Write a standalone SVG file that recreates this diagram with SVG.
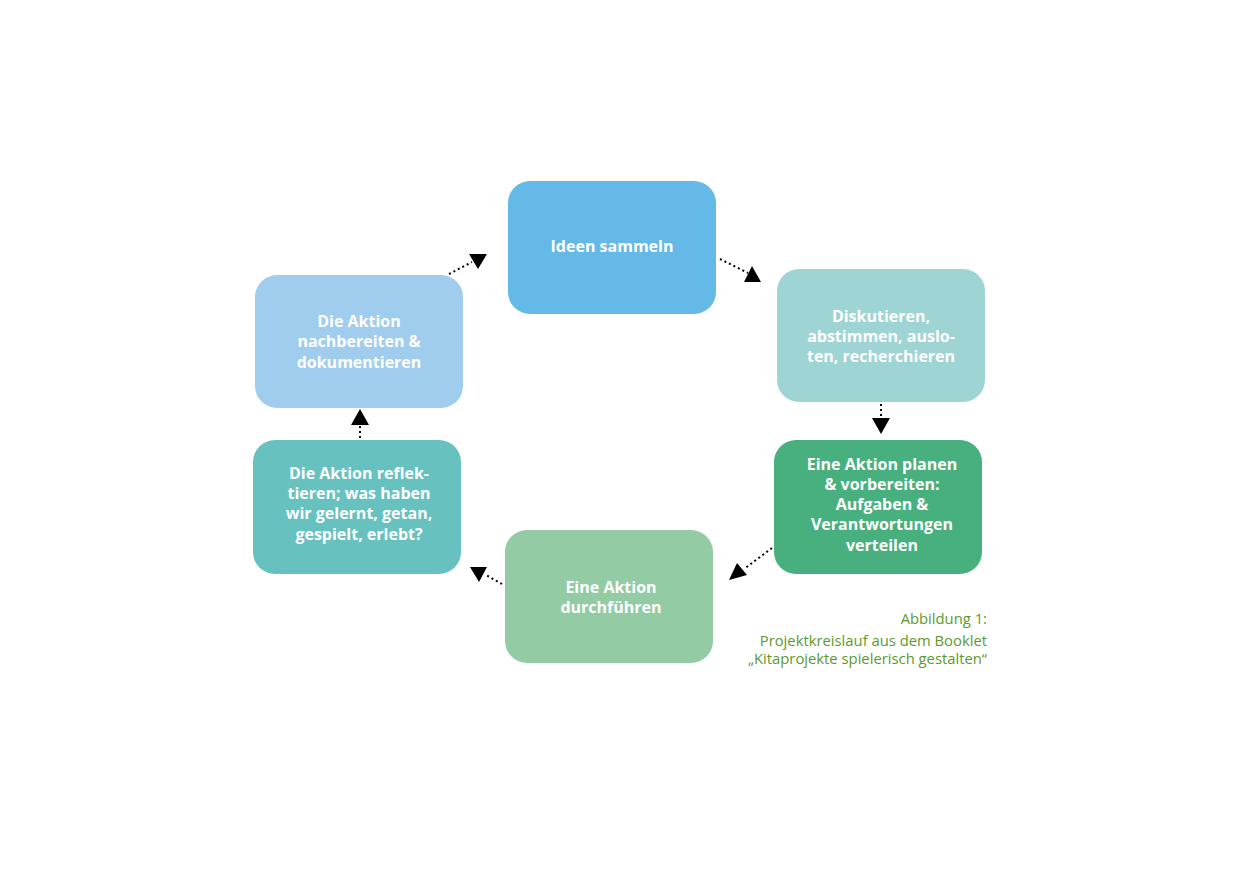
<svg xmlns="http://www.w3.org/2000/svg" width="1240" height="874" viewBox="0 0 1240 874">
<style>
.t{font-family:"Open Sans","Liberation Sans",sans-serif;font-weight:bold;font-size:16px;fill:#fff;text-anchor:middle}
.c{font-family:"Open Sans","Liberation Sans",sans-serif;font-size:14.8px;fill:#5b9a2c;text-anchor:end}
.d{stroke:#000;stroke-width:2;stroke-dasharray:2 3;fill:none}
</style>
<rect width="1240" height="874" fill="#fff"/>
<g id="n1"><rect x="508" y="181" width="208" height="133" rx="22" fill="#64b9e6"/><text class="t" x="612" y="252">Ideen sammeln</text></g>
<g id="n2"><rect x="777" y="269" width="208" height="133" rx="22" fill="#9fd4d4"/><text class="t" x="881" y="322">Diskutieren,</text><text class="t" x="881" y="342">abstimmen, auslo-</text><text class="t" x="881" y="362">ten, recherchieren</text></g>
<g id="n3"><rect x="774" y="440" width="208" height="134" rx="22" fill="#48b07e"/><text class="t" x="882" y="470">Eine Aktion planen</text><text class="t" x="882" y="490">&amp; vorbereiten:</text><text class="t" x="882" y="510">Aufgaben &amp;</text><text class="t" x="882" y="530">Verantwortungen</text><text class="t" x="882" y="551">verteilen</text></g>
<g id="n4"><rect x="505" y="530" width="208" height="133" rx="22" fill="#93cba5"/><text class="t" x="611" y="593">Eine Aktion</text><text class="t" x="611" y="613">durchführen</text></g>
<g id="n5"><rect x="253" y="440" width="208" height="134" rx="22" fill="#66c1bf"/><text class="t" x="359" y="479">Die Aktion reflek-</text><text class="t" x="359" y="499">tieren; was haben</text><text class="t" x="359" y="519">wir gelernt, getan,</text><text class="t" x="359" y="540">gespielt, erlebt?</text></g>
<g id="n6"><rect x="255" y="275" width="208" height="133" rx="22" fill="#a0cdee"/><text class="t" x="359" y="327">Die Aktion</text><text class="t" x="359" y="347">nachbereiten &amp;</text><text class="t" x="359" y="368">dokumentieren</text></g>
<g id="connectors">
<line class="d" x1="720" y1="259" x2="748" y2="273"/><polygon points="744,282 761,282 752,266"/>
<line class="d" x1="881" y1="404" x2="881" y2="419"/><polygon points="872,418 890,418 881,434"/>
<line class="d" x1="772" y1="548" x2="744" y2="569"/><polygon points="729,580 747,575 737,563"/>
<line class="d" x1="502" y1="584" x2="486" y2="575"/><polygon points="470,567 487,567 479,582"/>
<line class="d" x1="360" y1="438" x2="360" y2="425"/><polygon points="351,425 369,425 360,409"/>
<line class="d" x1="449" y1="274" x2="472" y2="262"/><polygon points="469,254 487,254 478,269"/>
</g>
<text class="c" x="987" y="624">Abbildung 1:</text>
<text class="c" x="987" y="646">Projektkreislauf aus dem Booklet</text>
<text class="c" x="987" y="664">„Kitaprojekte spielerisch gestalten“</text>
</svg>
